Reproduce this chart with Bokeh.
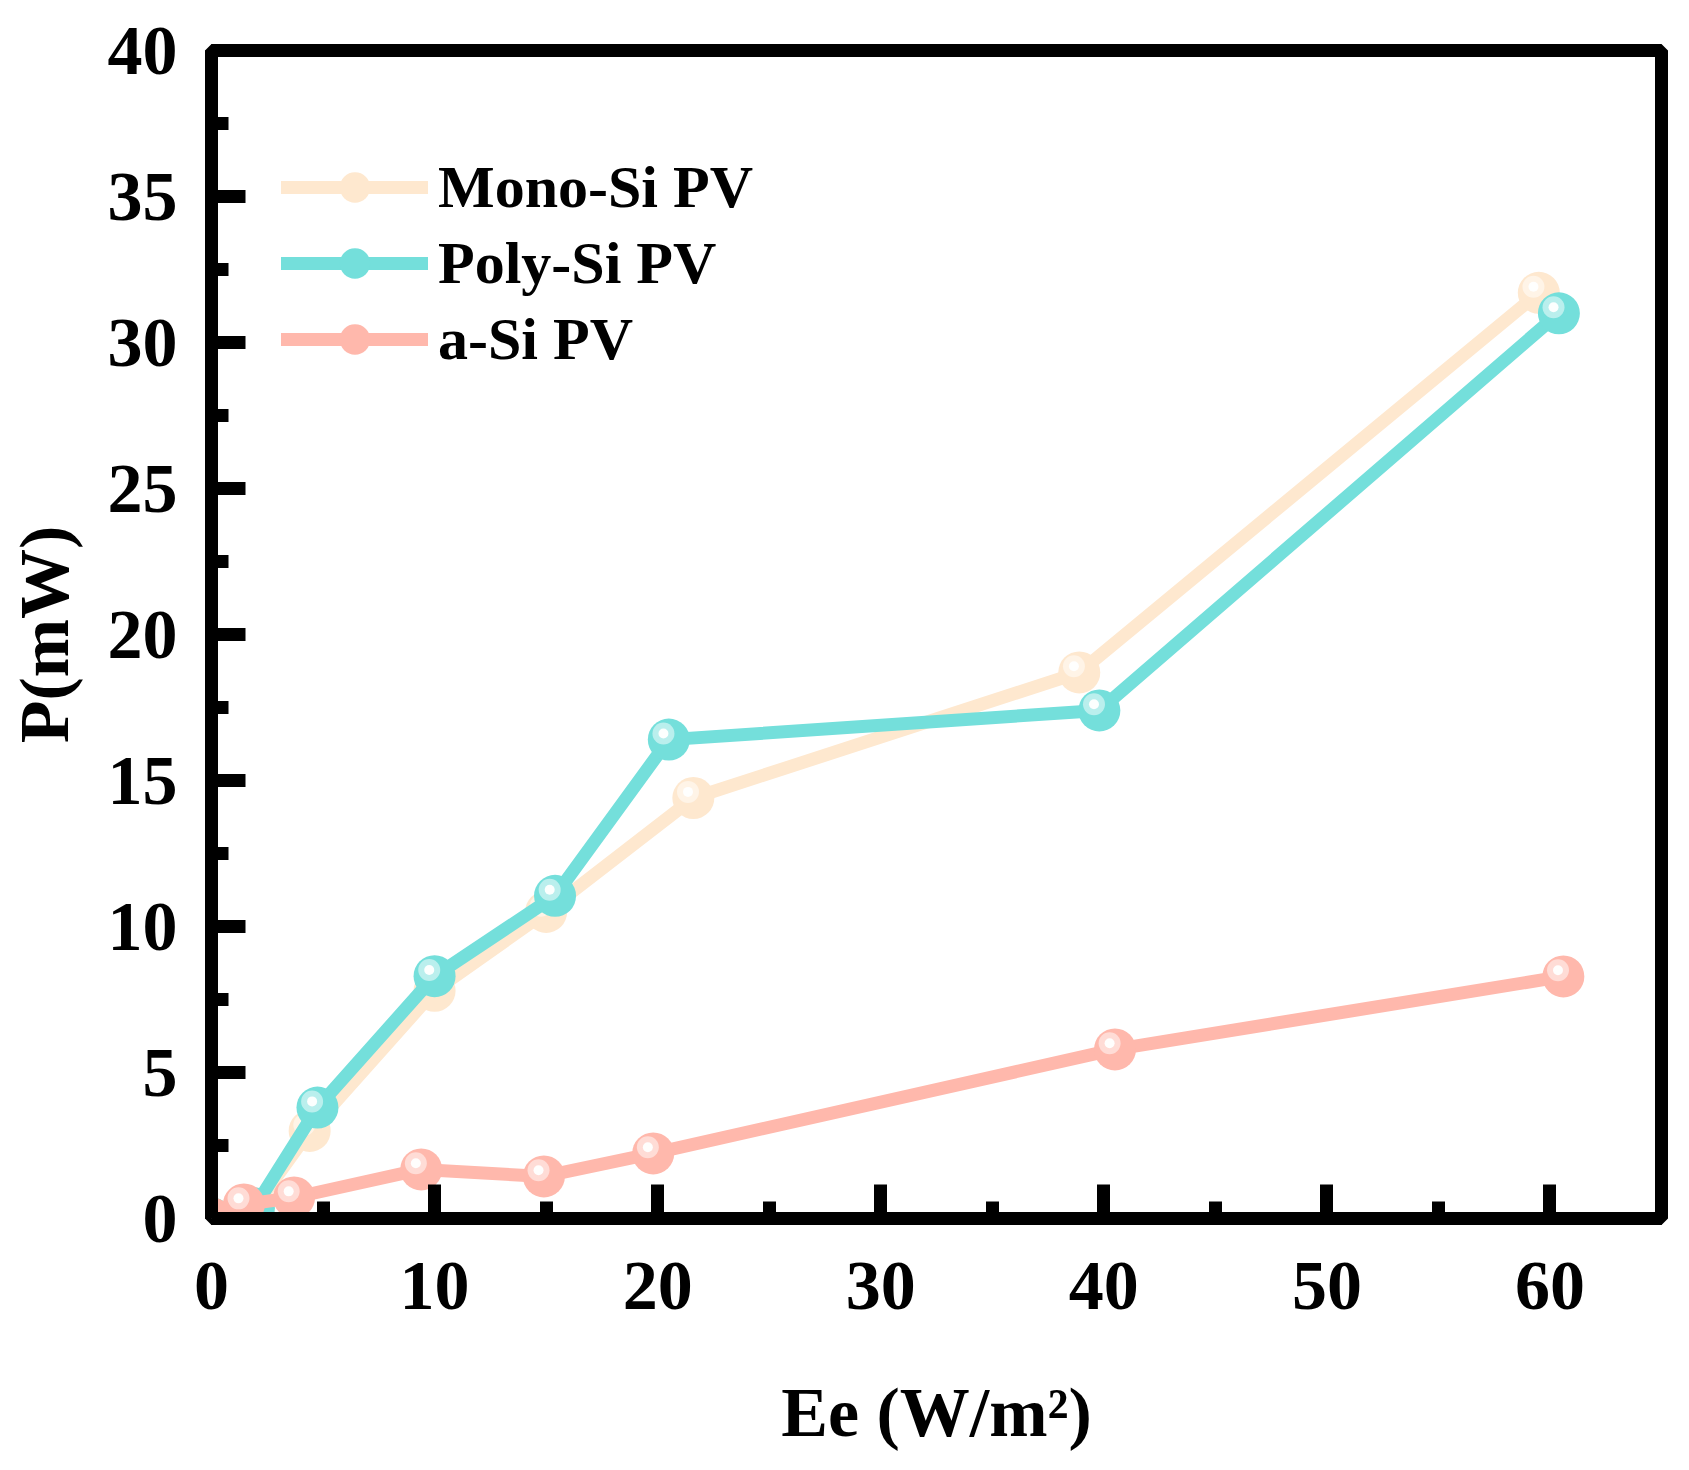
from bokeh.plotting import figure
from bokeh.models import ColumnDataSource, Legend, LegendItem, Range1d, FixedTicker
from bokeh.transform import dodge
from bokeh.embed import file_html
from bokeh.resources import INLINE

# irradiance (W/m2) and power (mW)
mono_x = [0, 1.9, 4.4, 10.0, 15.0, 21.6, 38.9, 59.5]
mono_y = [0, 0.35, 3.0, 7.8, 10.5, 14.4, 18.7, 31.7]
poly_x = [0, 1.9, 4.75, 10.0, 15.4, 20.5, 39.8, 60.4]
poly_y = [0, 0.35, 3.8, 8.3, 11.05, 16.4, 17.4, 31.0]
asi_x = [0, 1.45, 3.7, 9.4, 14.9, 19.8, 40.5, 60.6]
asi_y = [0, 0.48, 0.72, 1.68, 1.44, 2.23, 5.79, 8.29]

names = ["Mono-Si PV", "Poly-Si PV", "a-Si PV"]
colors = ["#FEE8CF", "#74DFDB", "#FFB8AC"]

x_ticks = [0, 10, 20, 30, 40, 50, 60]
y_ticks = [0, 5, 10, 15, 20, 25, 30, 35, 40]

FONT = "Liberation Serif"

p = figure(frame_width=1450, frame_height=1168,
           min_border_left=211, min_border_right=12,
           min_border_top=50, min_border_bottom=236,
           x_range=Range1d(0, 65), y_range=Range1d(0, 40),
           output_backend="svg", toolbar_location=None, tools="")

p.background_fill_color = "white"
p.border_fill_color = "white"
p.grid.visible = False
p.outline_line_color = "black"
p.outline_line_width = 13
p.outline_line_alpha = 1

for ax in (p.xaxis[0], p.yaxis[0]):
    ax.axis_line_width = 13
    ax.major_tick_line_width = 13
    ax.minor_tick_line_width = 13
    ax.major_tick_in = 34
    ax.major_tick_out = 0
    ax.minor_tick_in = 17
    ax.minor_tick_out = 0
    ax.major_label_text_font = FONT
    ax.major_label_text_font_style = "bold"
    ax.major_label_text_font_size = "70px"
    ax.major_label_text_color = "black"
    ax.axis_label_text_font = FONT
    ax.axis_label_text_font_style = "bold"
    ax.axis_label_text_font_size = "70px"
    ax.axis_label_text_color = "black"

p.xaxis.ticker = FixedTicker(ticks=x_ticks, minor_ticks=[5, 15, 25, 35, 45, 55])
p.yaxis.ticker = FixedTicker(ticks=y_ticks,
                             minor_ticks=[2.5, 7.5, 12.5, 17.5, 22.5, 27.5, 32.5, 37.5])
p.xaxis.axis_label = "Ee (W/m²)"
p.yaxis.axis_label = "P(mW)"
p.xaxis.major_label_standoff = 44
p.yaxis.major_label_standoff = 34
p.xaxis.axis_label_standoff = 62
p.yaxis.axis_label_standoff = 22

items = []
for name, color, xs, ys in zip(names, colors,
                               [mono_x, poly_x, asi_x],
                               [mono_y, poly_y, asi_y]):
    src = ColumnDataSource(dict(x=xs, y=ys))
    ln = p.line("x", "y", source=src, line_color=color, line_width=13,
                line_join="round", line_cap="round")
    mk = p.scatter("x", "y", source=src, size=42, fill_color=color,
                   line_color=None)
    # glossy highlight, a few pixels up-left of centre
    hx = dodge("x", -0.24, range=p.x_range)
    hy = dodge("y", 0.21, range=p.y_range)
    p.scatter(hx, hy, source=src, size=22, fill_color="white",
              fill_alpha=0.5, line_color=None)
    p.scatter(hx, hy, source=src, size=10, fill_color="white",
              fill_alpha=0.95, line_color=None)
    items.append(LegendItem(label=name, renderers=[ln, mk]))

legend = Legend(items=items, location=(70, 841))
legend.border_line_color = None
legend.background_fill_alpha = 0
legend.margin = 0
legend.padding = 0
legend.spacing = 0
legend.glyph_width = 147
legend.glyph_height = 76
legend.label_height = 76
legend.label_standoff = 10
legend.label_text_font = FONT
legend.label_text_font_style = "bold"
legend.label_text_font_size = "60px"
legend.label_text_color = "black"
p.add_layout(legend)

open("out.html", "w").write(file_html(p, INLINE))
